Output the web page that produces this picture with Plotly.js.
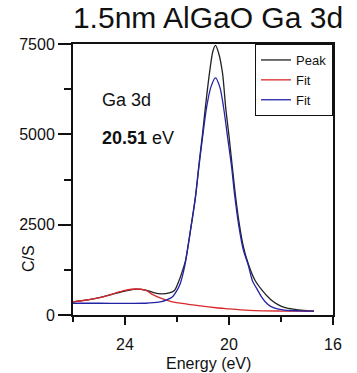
<!DOCTYPE html>
<html>
<head>
<meta charset="utf-8">
<script src="https://cdn.plot.ly/plotly-3.0.1.min.js"></script>
<style>html,body{margin:0;padding:0;background:#fff;}#chart{width:357px;height:373px;}</style>
</head>
<body>
<div id="chart"></div>
<script>
// Peak (measured envelope)
const peakEnergy = [26.0, 25.5, 25.0, 24.5, 24.0, 23.6, 23.2, 22.9, 22.6, 22.3, 22.1, 21.95, 21.8, 21.68, 21.48, 21.29, 21.15, 21.02, 20.9, 20.75, 20.62, 20.52, 20.4, 20.25, 20.13, 20.0, 19.88, 19.75, 19.6, 19.45, 19.26, 19.0, 18.7, 18.4, 18.1, 17.8, 17.4, 17.0, 16.73];
const peakCS     = [365, 410, 480, 570, 660, 715, 690, 620, 585, 610, 680, 900, 1200, 1480, 2350, 3270, 4200, 5000, 5800, 6700, 7300, 7460, 7250, 6700, 5760, 4950, 4150, 3300, 2500, 1900, 1420, 960, 660, 430, 280, 195, 145, 120, 110];
// Fit 1 (red, satellite component)
const fit1Energy = [26.0, 25.46, 24.84, 24.4, 24.0, 23.6, 23.2, 22.91, 22.6, 22.25, 21.8, 21.1, 20.5, 20.0, 19.5, 19.0, 18.0, 16.73];
const fit1CS     = [365, 415, 500, 600, 680, 720, 680, 555, 460, 380, 320, 250, 200, 170, 140, 120, 110, 105];
// Fit 2 (blue, main Ga 3d component)
const fit2Energy = [26.0, 25.0, 24.0, 23.2, 22.9, 22.6, 22.4, 22.18, 22.0, 21.87, 21.75, 21.68, 21.48, 21.29, 21.15, 21.02, 20.86, 20.7, 20.52, 20.35, 20.21, 20.05, 19.9, 19.78, 19.62, 19.45, 19.26, 19.1, 18.9, 18.75, 18.6, 18.4, 18.1, 17.8, 17.3, 16.73];
const fit2CS     = [325, 325, 322, 325, 340, 370, 420, 500, 680, 880, 1200, 1440, 2350, 3270, 4150, 4900, 5750, 6300, 6560, 6300, 5750, 4900, 4100, 3300, 2450, 1800, 1380, 950, 690, 500, 360, 240, 160, 130, 115, 105];
const seriesNames = ["Peak", "Fit", "Fit"];
const yTicks = [0, 2500, 5000, 7500];
const yMinorTicks = [1250, 3750, 6250];
const xTicks = [24, 20, 16];
const xMinorTicks = [26, 22, 18];

const FONT = "Liberation Sans, Arial, sans-serif";
const traces = [
  {x: peakEnergy, y: peakCS, name: seriesNames[0], type: "scatter", mode: "lines", line: {color: "#222222", width: 1.3, shape: "spline", smoothing: 0.8}},
  {x: fit1Energy, y: fit1CS, name: seriesNames[1], type: "scatter", mode: "lines", line: {color: "rgb(215,40,45)", width: 1.3, shape: "spline", smoothing: 0.8}},
  {x: fit2Energy, y: fit2CS, name: seriesNames[2], type: "scatter", mode: "lines", line: {color: "rgb(35,35,165)", width: 1.3, shape: "spline", smoothing: 0.8}}
];

const layout = {
  width: 357, height: 373,
  margin: {l: 73, r: 24, t: 44, b: 58},
  paper_bgcolor: "#fff", plot_bgcolor: "#fff",
  font: {family: FONT, color: "#111", size: 16},
  title: {text: "1.5nm AlGaO Ga 3d", font: {family: FONT, size: 30, color: "#111"}, x: 208/357, xref: "container", xanchor: "center", y: 1 - 17/373, yref: "container", yanchor: "middle"},
  showlegend: true,
  legend: {x: 1, xanchor: "right", y: 1, yanchor: "top", bgcolor: "#fff", bordercolor: "#111", borderwidth: 1, font: {family: FONT, size: 13, color: "#111"}, tracegroupgap: 0, itemwidth: 30},
  xaxis: {
    range: [26, 16], autorange: false,
    tickmode: "array", tickvals: xTicks, ticktext: xTicks.map(String),
    ticks: "outside", ticklen: 8, tickwidth: 2, tickcolor: "#111",
    ticklabelstandoff: 6,
    minor: {tickmode: "array", tickvals: xMinorTicks, ticks: "outside", ticklen: 5, tickwidth: 2, tickcolor: "#111", showgrid: false},
    showline: true, linewidth: 2, linecolor: "#111", mirror: true,
    showgrid: false, zeroline: false,
    tickfont: {family: FONT, size: 16, color: "#111"}
  },
  yaxis: {
    range: [0, 7500], autorange: false,
    tickmode: "array", tickvals: yTicks, ticktext: yTicks.map(String),
    ticks: "outside", ticklen: 13, tickwidth: 2, tickcolor: "#111",
    minor: {tickmode: "array", tickvals: yMinorTicks, ticks: "outside", ticklen: 7, tickwidth: 2, tickcolor: "#111", showgrid: false},
    showline: true, linewidth: 2, linecolor: "#111", mirror: true,
    showgrid: false, zeroline: false,
    tickfont: {family: FONT, size: 16, color: "#111"}
  },
  annotations: [
    {text: "Energy (eV)", xref: "paper", yref: "paper", x: (208-73)/260, y: (315-363)/271, xanchor: "center", yanchor: "middle", showarrow: false, font: {family: FONT, size: 16, color: "#111"}},
    {text: "C/S", xref: "paper", yref: "paper", x: (28-73)/260, y: (315-259)/271, xanchor: "center", yanchor: "middle", textangle: -90, showarrow: false, font: {family: FONT, size: 16, color: "#111"}},
    {text: "Ga 3d", xref: "paper", yref: "paper", x: (100-73)/260, y: (315-100)/271, xanchor: "left", yanchor: "middle", showarrow: false, font: {family: FONT, size: 18, color: "#111"}},
    {text: "<b>20.51</b> eV", xref: "paper", yref: "paper", x: (100-73)/260, y: (315-138)/271, xanchor: "left", yanchor: "middle", showarrow: false, font: {family: FONT, size: 18, color: "#111"}}
  ]
};

Plotly.newPlot("chart", traces, layout, {staticPlot: true, displayModeBar: false});
</script>
</body>
</html>
